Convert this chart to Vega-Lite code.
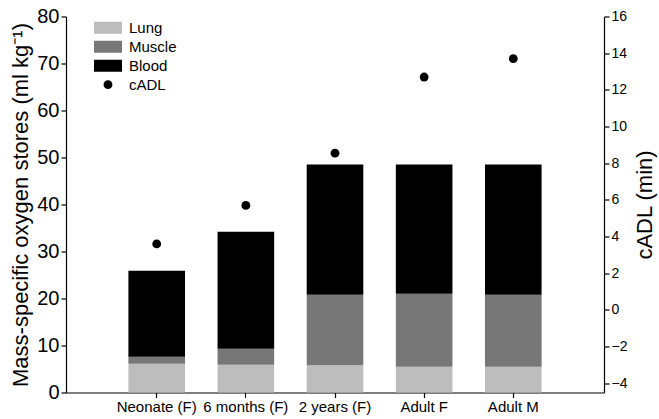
{
  "$schema": "https://vega.github.io/schema/vega-lite/v6.json",
  "width": 538,
  "height": 376,
  "autosize": "none",
  "padding": {"left": 66, "top": 16.5, "right": 55, "bottom": 26.5},
  "background": "white",
  "config": {
    "view": {"stroke": null},
    "font": "Liberation Sans",
    "axis": {"grid": false, "domainColor": "black", "tickColor": "black", "labelColor": "black", "titleColor": "black", "titleFontWeight": "normal", "domainWidth": 1.2, "tickWidth": 1.2}
  },
  "datasets": {
    "stores": [
      {"group": "Neonate (F)", "component": "Lung", "ord": 1, "value": 6.1},
      {"group": "Neonate (F)", "component": "Muscle", "ord": 2, "value": 1.5},
      {"group": "Neonate (F)", "component": "Blood", "ord": 3, "value": 18.3},
      {"group": "6 months (F)", "component": "Lung", "ord": 1, "value": 5.9},
      {"group": "6 months (F)", "component": "Muscle", "ord": 2, "value": 3.4},
      {"group": "6 months (F)", "component": "Blood", "ord": 3, "value": 24.9},
      {"group": "2 years (F)", "component": "Lung", "ord": 1, "value": 5.8},
      {"group": "2 years (F)", "component": "Muscle", "ord": 2, "value": 15.0},
      {"group": "2 years (F)", "component": "Blood", "ord": 3, "value": 27.7},
      {"group": "Adult F", "component": "Lung", "ord": 1, "value": 5.5},
      {"group": "Adult F", "component": "Muscle", "ord": 2, "value": 15.5},
      {"group": "Adult F", "component": "Blood", "ord": 3, "value": 27.5},
      {"group": "Adult M", "component": "Lung", "ord": 1, "value": 5.5},
      {"group": "Adult M", "component": "Muscle", "ord": 2, "value": 15.3},
      {"group": "Adult M", "component": "Blood", "ord": 3, "value": 27.7}
    ],
    "cadl": [
      {"group": "Neonate (F)", "component": "cADL", "cadl": 3.6},
      {"group": "6 months (F)", "component": "cADL", "cadl": 5.7},
      {"group": "2 years (F)", "component": "cADL", "cadl": 8.55},
      {"group": "Adult F", "component": "cADL", "cadl": 12.7},
      {"group": "Adult M", "component": "cADL", "cadl": 13.7}
    ]
  },
  "layer": [
    {
      "data": {"name": "stores"},
      "mark": {"type": "bar"},
      "encoding": {
        "x": {"field": "group", "type": "nominal", "sort": ["Neonate (F)", "6 months (F)", "2 years (F)", "Adult F", "Adult M"], "scale": {"paddingInner": 0.365, "paddingOuter": 0.7}, "axis": {"title": null, "labelAngle": 0, "labelFontSize": 15, "tickSize": 5, "labelPadding": 2}},
        "y": {"field": "value", "type": "quantitative", "stack": "zero", "scale": {"domain": [0, 80], "nice": false}, "axis": {"title": "Mass-specific oxygen stores (ml kg⁻¹)", "values": [0, 10, 20, 30, 40, 50, 60, 70, 80], "labelFontSize": 20, "titleFontSize": 22, "tickSize": 5, "labelPadding": 2, "titlePadding": 4}},
        "color": {"field": "component", "type": "nominal", "scale": {"domain": ["Lung", "Muscle", "Blood", "cADL"], "range": ["#bdbdbd", "#777777", "#000000", "#000000"]},
          "legend": {"title": null, "orient": "none", "legendX": 28, "legendY": 2, "labelFontSize": 15, "symbolSize": 64, "rowPadding": 0, "clipHeight": 18.3, "labelOffset": 7, "symbolType": "square",
            "encode": {"symbols": {"update": {"shape": {"signal": "datum.value === 'cADL' ? 'circle' : 'M-1,-0.43H1V0.43H-1Z'"}, "size": {"signal": "datum.value === 'cADL' ? 78 : 784"}, "fill": {"signal": "datum.value === 'Lung' ? '#bdbdbd' : datum.value === 'Muscle' ? '#777777' : '#000000'"}, "strokeWidth": {"value": 0}, "opacity": {"value": 1}}}}}},
        "order": {"field": "ord", "type": "quantitative"}
      }
    },
    {
      "data": {"name": "cadl"},
      "mark": {"type": "point", "filled": true, "shape": "circle", "size": 78, "opacity": 1},
      "encoding": {
        "x": {"field": "group", "type": "nominal", "sort": ["Neonate (F)", "6 months (F)", "2 years (F)", "Adult F", "Adult M"]},
        "y": {"field": "cadl", "type": "quantitative", "scale": {"domain": [-4.5, 16], "nice": false, "zero": false}, "axis": {"orient": "right", "title": "cADL (min)", "values": [-4, -2, 0, 2, 4, 6, 8, 10, 12, 14, 16], "labelFontSize": 14, "titleFontSize": 22, "titleAngle": 270, "titleBaseline": "top", "tickSize": 5, "labelPadding": 2, "titlePadding": 8}},
        "color": {"field": "component", "type": "nominal"}
      }
    }
  ],
  "resolve": {"scale": {"y": "independent"}}
}
